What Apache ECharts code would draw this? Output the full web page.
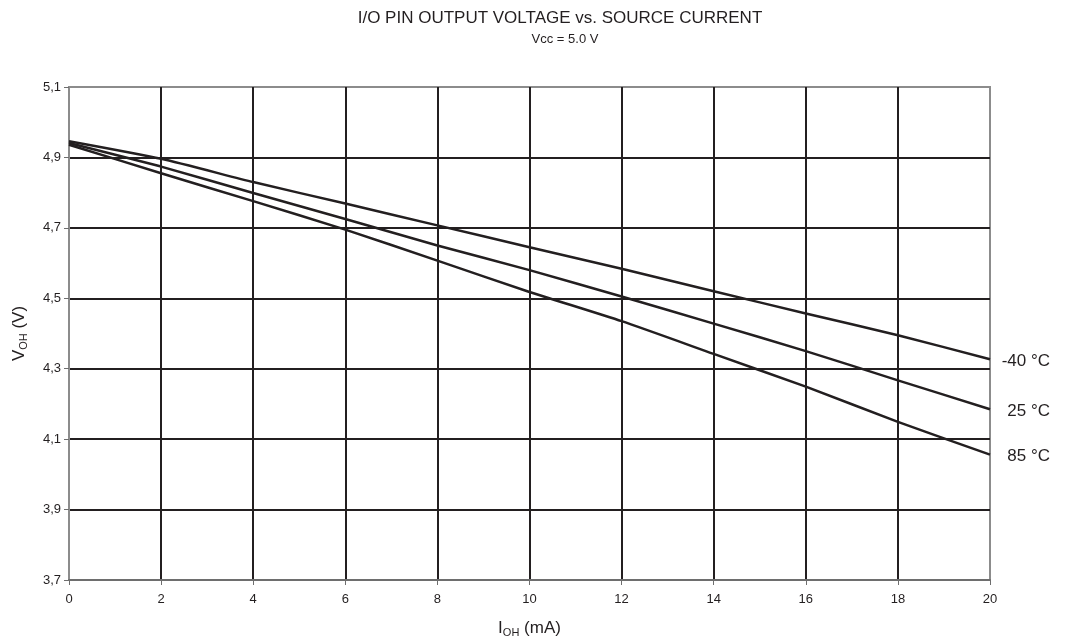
<!DOCTYPE html>
<html>
<head>
<meta charset="utf-8">
<script src="https://cdn.jsdelivr.net/npm/echarts@6/dist/echarts.min.js"></script>
<style>html,body{margin:0;padding:0;background:#fff}#c{width:1066px;height:643px}</style>
</head>
<body>
<div id="c"></div>
<script>
const currents = [0, 2, 4, 6, 8, 10, 12, 14, 16, 18, 20];
const seriesNames = ['-40 °C', '25 °C', '85 °C'];
const vMinus40 = [4.946, 4.896, 4.830, 4.769, 4.707, 4.645, 4.584, 4.520, 4.457, 4.395, 4.327];
const v25 = [4.941, 4.874, 4.799, 4.725, 4.650, 4.580, 4.505, 4.428, 4.350, 4.267, 4.185];
const v85 = [4.936, 4.855, 4.776, 4.695, 4.607, 4.518, 4.435, 4.342, 4.249, 4.149, 4.056];
const titleText = 'I/O PIN OUTPUT VOLTAGE vs. SOURCE CURRENT';
const subtitleText = 'Vcc = 5.0 V';

const ink = '#231f20';
const font = 'Liberation Sans, Arial, sans-serif';
const chart = echarts.init(document.getElementById('c'));
const allV = [vMinus40, v25, v85];
const nameRich = {
  m: {fontFamily: font, fontSize: 17, color: ink},
  s: {fontFamily: font, fontSize: 11, color: ink, verticalAlign: 'bottom', padding: [9, 0, 0, 0]}
};
chart.setOption({
  animation: false,
  title: [
    {text: titleText, left: 555, top: 5, textAlign: 'center',
     textStyle: {fontFamily: font, fontSize: 17, fontWeight: 'normal', color: ink}},
    {text: subtitleText, left: 560, top: 28, textAlign: 'center',
     textStyle: {fontFamily: font, fontSize: 13, fontWeight: 'normal', color: ink}}
  ],
  grid: {left: 69, right: 76, top: 87, bottom: 62, show: true, borderColor: '#8c8c8c', borderWidth: 2},
  xAxis: {
    type: 'value', min: 0, max: 20, interval: 2,
    name: '{m|I}{s|OH}{m| (mA)}', nameLocation: 'middle', nameGap: 38,
    nameTextStyle: {rich: nameRich},
    axisLine: {show: true, lineStyle: {color: '#6e6e6e', width: 2}},
    axisTick: {show: true, length: 5, lineStyle: {color: '#6e6e6e'}},
    axisLabel: {fontFamily: font, fontSize: 13, color: ink, margin: 13},
    splitLine: {show: true, showMinLine: false, showMaxLine: false, lineStyle: {color: ink, width: 2}}
  },
  yAxis: {
    type: 'value', min: 3.7, max: 5.1, interval: 0.2,
    name: '{m|V}{s|OH}{m| (V)}', nameLocation: 'middle', nameGap: 40, nameRotate: 90,
    nameTextStyle: {rich: nameRich},
    axisLine: {show: true, lineStyle: {color: '#8c8c8c', width: 2}},
    axisTick: {show: true, length: 5, lineStyle: {color: '#6e6e6e'}},
    axisLabel: {fontFamily: font, fontSize: 13, color: ink, margin: 8,
      formatter: v => v.toFixed(1).replace('.', ',')},
    splitLine: {show: true, showMinLine: false, showMaxLine: false, lineStyle: {color: ink, width: 2}}
  },
  series: seriesNames.map((n, i) => ({
    name: n, type: 'line', symbol: 'none', smooth: 0.2,
    data: currents.map((c, j) => [c, allV[i][j]]),
    lineStyle: {color: ink, width: 2.5},
    endLabel: {show: true, formatter: '{a}', fontFamily: font, fontSize: 17, color: ink, align: 'right', offset: [52, 2]}
  }))
});
</script>
</body>
</html>
